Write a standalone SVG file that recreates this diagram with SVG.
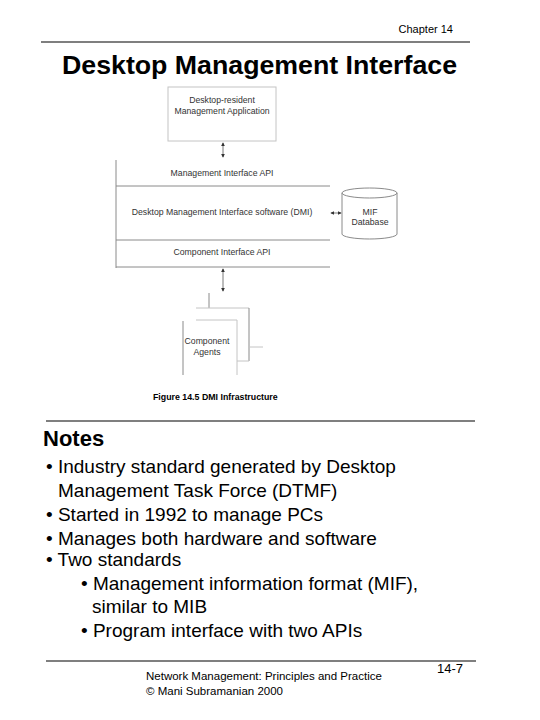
<svg xmlns="http://www.w3.org/2000/svg" width="540" height="720" viewBox="0 0 540 720">
<defs>
<style>
.t{font-family:"Liberation Sans",Arial,sans-serif;fill:#000}
.d{font-family:"Liberation Sans",Arial,sans-serif;font-size:8.7px;fill:#333;text-anchor:middle}
.ln{stroke:#8a8a8a;stroke-width:1;fill:none}
.lt{stroke:#c4c4c4;stroke-width:1;fill:none}
.rule{stroke:#000;stroke-width:1.2}
</style>
<marker id="ah" viewBox="0 0 6 6" refX="5" refY="3" markerWidth="5" markerHeight="5" orient="auto-start-reverse">
<path d="M0,0 L6,3 L0,6 z" fill="#333"/>
</marker>
</defs>
<rect width="540" height="720" fill="#fff"/>
<text class="t" x="453" y="33" font-size="11" text-anchor="end">Chapter 14</text>
<line class="rule" x1="41" y1="42" x2="470" y2="42"/>
<text class="t" x="62" y="74" font-size="25" font-weight="bold" textLength="395" lengthAdjust="spacingAndGlyphs">Desktop Management Interface</text>

<g id="app">
<rect class="lt" x="168" y="87" width="108" height="54"/>
<text class="d" x="222" y="103">Desktop-resident</text>
<text class="d" x="222" y="114">Management Application</text>
</g>
<g id="dmi">
<line class="ln" x1="116" y1="160" x2="116" y2="268"/>
<line class="ln" x1="116" y1="186" x2="330" y2="186"/>
<line class="ln" x1="116" y1="240" x2="330" y2="240"/>
<line class="ln" x1="116" y1="267" x2="330" y2="267"/>
<text class="d" x="222" y="176">Management Interface API</text>
<text class="d" x="222" y="215">Desktop Management Interface software (DMI)</text>
<text class="d" x="222" y="255">Component Interface API</text>
</g>
<g id="mif">
<path class="ln" d="M342,193 L342,234 A27.5,5 0 0 0 397,234 L397,193"/>
<ellipse class="ln" cx="369.5" cy="193" rx="27.5" ry="5" fill="#fff"/>
<text class="d" x="370" y="215">MIF</text>
<text class="d" x="370" y="225">Database</text>
</g>
<g id="agents">
<line class="ln" x1="209" y1="293" x2="209" y2="308"/>
<line class="lt" x1="196" y1="308" x2="249" y2="308"/>
<line class="ln" x1="249" y1="308" x2="249" y2="361"/>
<line class="lt" x1="237" y1="361" x2="249" y2="361"/>
<line class="lt" x1="249" y1="347" x2="263" y2="347"/>
<line class="ln" x1="183" y1="321" x2="183" y2="375"/>
<line class="lt" x1="196" y1="320" x2="237" y2="320"/>
<line class="lt" x1="237" y1="320" x2="237" y2="375"/>
<text class="d" x="207" y="344">Component</text>
<text class="d" x="207" y="355">Agents</text>
</g>
<g id="connectors">
<line stroke="#555" stroke-width="0.8" x1="223" y1="143" x2="223" y2="157" marker-start="url(#ah)" marker-end="url(#ah)"/>
<line stroke="#555" stroke-width="0.8" x1="331" y1="213" x2="341" y2="213" marker-start="url(#ah)" marker-end="url(#ah)"/>
<line stroke="#555" stroke-width="0.8" x1="223" y1="269" x2="223" y2="291" marker-start="url(#ah)" marker-end="url(#ah)"/>
</g>
<text class="t" x="153" y="400" font-size="8.8" font-weight="bold" fill="#222">Figure 14.5 DMI Infrastructure</text>

<line class="rule" x1="46" y1="421" x2="475" y2="421"/>
<text class="t" x="43" y="446" font-size="22" font-weight="bold">Notes</text>
<g class="t" font-size="19">
<text x="46" y="473">• Industry standard generated by Desktop</text>
<text x="58" y="497">Management Task Force (DTMF)</text>
<text x="46" y="521">• Started in 1992 to manage PCs</text>
<text x="46" y="545">• Manages both hardware and software</text>
<text x="46" y="566">• Two standards</text>
<text x="81" y="590">• Management information format (MIF),</text>
<text x="92" y="613">similar to MIB</text>
<text x="81" y="637">• Program interface with two APIs</text>
</g>
<line class="rule" x1="46" y1="661" x2="476" y2="661"/>
<text class="t" x="146" y="680" font-size="11.5">Network Management: Principles and Practice</text>
<text class="t" x="146" y="695" font-size="11.5">©  Mani Subramanian 2000</text>
<text class="t" x="437" y="673" font-size="13">14-7</text>
</svg>
